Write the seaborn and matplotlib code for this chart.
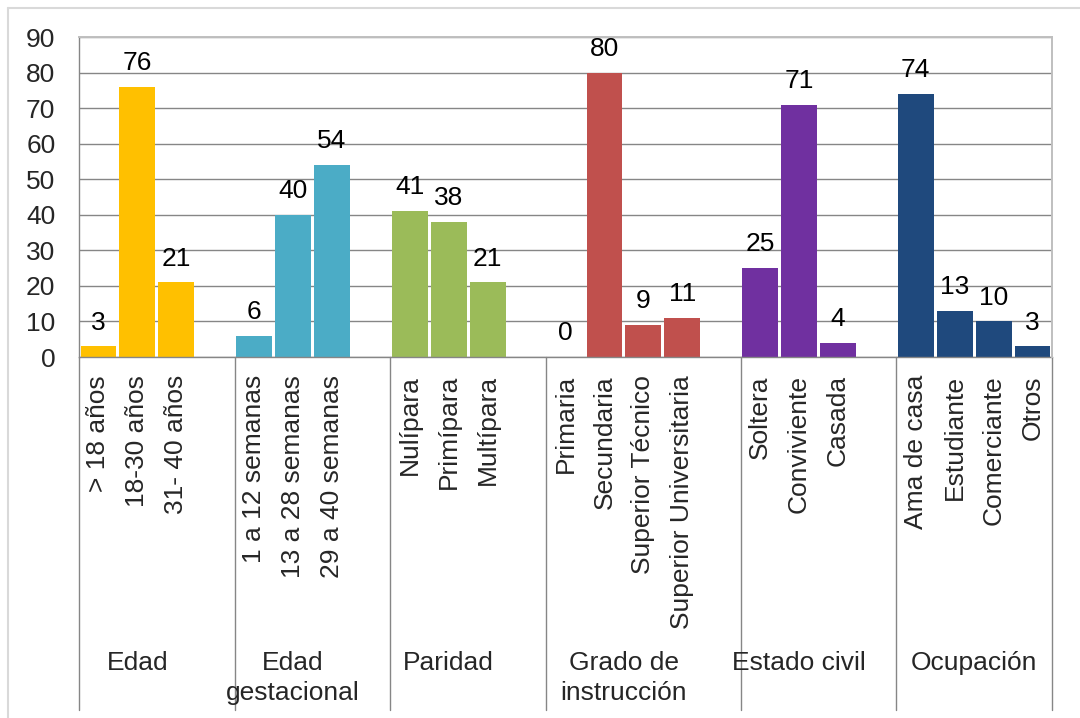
import matplotlib
matplotlib.use("Agg")
import matplotlib.pyplot as plt
import matplotlib.transforms as mtransforms
from matplotlib.lines import Line2D
import seaborn as sns
import pandas as pd

# Group titles (second level of the category axis)
groups = ["Edad", "Edad\ngestacional", "Paridad", "Grado de\ninstrucción",
          "Estado civil", "Ocupación"]

# Categories and counts per group
edad = ["> 18 años", "18-30 años", "31- 40 años"]
edad_vals = [3, 76, 21]
gestacion = ["1 a 12 semanas", "13 a 28 semanas", "29 a 40 semanas"]
gestacion_vals = [6, 40, 54]
paridad = ["Nulípara", "Primípara", "Multípara"]
paridad_vals = [41, 38, 21]
instruccion = ["Primaria", "Secundaria", "Superior Técnico", "Superior Universitaria"]
instruccion_vals = [0, 80, 9, 11]
estado_civil = ["Soltera", "Conviviente", "Casada"]
estado_civil_vals = [25, 71, 4]
ocupacion = ["Ama de casa", "Estudiante", "Comerciante", "Otros"]
ocupacion_vals = [74, 13, 10, 3]

colors = ["#FFC000", "#4BACC6", "#9BBB59", "#C0504D", "#7030A0", "#1F497D"]
y_ticks = list(range(0, 91, 10))

cats_by_group = [edad, gestacion, paridad, instruccion, estado_civil, ocupacion]
vals_by_group = [edad_vals, gestacion_vals, paridad_vals, instruccion_vals,
                 estado_civil_vals, ocupacion_vals]

# Build a long table; an empty slot separates consecutive groups
rows, order, tick_labels, bounds, centers = [], [], [], [-0.5], []
for gi, (g, cats, vals) in enumerate(zip(groups, cats_by_group, vals_by_group)):
    start = len(order)
    for ci, (c, v) in enumerate(zip(cats, vals)):
        key = f"{gi}:{ci}"
        rows.append({"slot": key, "valor": v, "grupo": g})
        order.append(key)
        tick_labels.append(c)
    centers.append((start + len(order) - 1) / 2)
    if gi < len(groups) - 1:
        order.append(f"gap{gi}")
        tick_labels.append("")
    bounds.append(len(order) - 0.5)
df = pd.DataFrame(rows)

sns.set_style("white")
plt.rcParams["font.family"] = ["Liberation Sans", "DejaVu Sans"]
FS = 19

fig = plt.figure(figsize=(10.8, 7.18), dpi=100)
ax = fig.add_axes([79 / 1080, 1 - 357 / 718, (1052 - 79) / 1080, 320 / 718])

sns.barplot(data=df, x="slot", y="valor", hue="grupo", order=order,
            hue_order=groups, palette=colors, dodge=False, width=0.92,
            saturation=1, errorbar=None, legend=False, linewidth=0, ax=ax)

for cont in ax.containers:
    ax.bar_label(cont, fmt="%g", padding=8.5, fontsize=FS, color="black")

ax.set_xlim(-0.5, len(order) - 0.5)
ax.set_ylim(0, 90)
ax.set_yticks(y_ticks)
ax.set_xticks(range(len(order)))
ax.set_xticklabels(tick_labels, rotation=90, fontsize=FS)
ax.tick_params(axis="x", length=0, pad=13)
ax.tick_params(axis="y", length=0, pad=17, labelsize=FS)
ax.set_xlabel("")
ax.set_ylabel("")

ax.yaxis.grid(True, color="#868686", linewidth=1.0)
ax.set_axisbelow(True)
for side in ["left", "bottom"]:
    ax.spines[side].set_color("#868686")
    ax.spines[side].set_linewidth(1.0)
for side in ["top", "right"]:
    ax.spines[side].set_color("#BFBFBF")
    ax.spines[side].set_linewidth(1.4)
    ax.spines[side].set_zorder(3)

# Group dividers and titles below the category axis
trans = mtransforms.blended_transform_factory(ax.transData, ax.transAxes)
for b in bounds:
    ax.plot([b, b], [0, -1.103], color="#868686", linewidth=1.0,
            transform=trans, clip_on=False)
for g, c in zip(groups, centers):
    ax.text(c, -0.92, g, transform=trans, ha="center", va="top",
            fontsize=FS, linespacing=1.3)

# Chart-area border
fig.add_artist(Line2D([8 / 1080, 1], [1 - 8 / 718] * 2, color="#D9D9D9",
                      linewidth=1.5, transform=fig.transFigure))
fig.add_artist(Line2D([8 / 1080] * 2, [0, 1 - 8 / 718], color="#D9D9D9",
                      linewidth=1.5, transform=fig.transFigure))

fig.savefig("out.png", dpi=100, facecolor="white")
